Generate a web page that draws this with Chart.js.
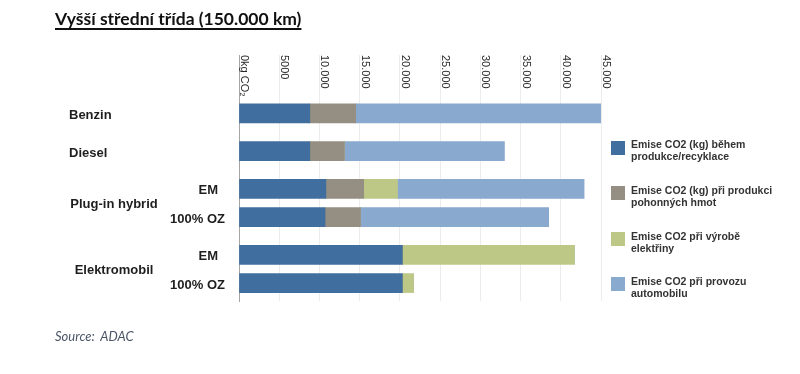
<!DOCTYPE html>
<html>
<head>
<meta charset="utf-8">
<script src="https://cdn.jsdelivr.net/npm/chart.js@4"></script>
<style>
  body { margin: 0; background: #fff; }
  #wrap { position: relative; width: 800px; height: 374px; overflow: hidden; }
  #chart { position: absolute; left: 0; top: 0; }
  .title {
    position: absolute; left: 55px; top: 8px;
    font: bold 17.5px Lato, sans-serif; color: #111;
    text-decoration: underline; text-decoration-thickness: 2px; text-underline-offset: 3px;
  }
  .source {
    position: absolute; left: 55px; top: 328px;
    font: italic 13px Lato, sans-serif; color: #4b5566;
  }
  .legend-item { position: absolute; left: 611px; }
  .legend-item .box { position: absolute; left: 0; width: 14px; height: 14px; }
  .legend-item .txt {
    position: absolute; left: 20px; white-space: nowrap;
    font: bold 10.5px "Liberation Sans", Arial, sans-serif; line-height: 12px; color: #333;
  }
</style>
</head>
<body>
<div id="wrap">
  <canvas id="chart" width="800" height="374"></canvas>
  <div class="title">Vyšší střední třída (150.000 km)</div>
  <div id="legend"></div>
  <div class="source">Source:&nbsp; ADAC</div>
</div>
<script>
// rows (top to bottom)
const groups = ["Benzin", "Diesel", "Plug-in hybrid", "Plug-in hybrid", "Elektromobil", "Elektromobil"];
const variants = ["", "", "EM", "100% OZ", "EM", "100% OZ"];
const rowSlots = [0, 4, 8, 11, 15, 18]; // rows inside a group sit closer together

// CO2 emissions in kg
const production = [8800, 8800, 10800, 10700, 20300, 20300];
const fuelProduction = [5700, 4300, 4700, 4400, 0, 0];
const electricity = [0, 0, 4200, 0, 21400, 1400];
const operation = [30500, 19900, 23200, 23400, 0, 0];

const tickValues = [0, 5000, 10000, 15000, 20000, 25000, 30000, 35000, 40000, 45000];
const tickLabels = ["0kg CO₂", "5000", "10.000", "15.000", "20.000", "25.000", "30.000", "35.000", "40.000", "45.000"];

const seriesNames = [
  ["Emise CO2 (kg) během", "produkce/recyklace"],
  ["Emise CO2 (kg) při produkci", "pohonných hmot"],
  ["Emise CO2 při výrobě", "elektřiny"],
  ["Emise CO2 při provozu", "automobilu"]
];
const seriesColors = ["#406e9f", "#948f82", "#bdc886", "#8aa9cf"];
const seriesData = [production, fuelProduction, electricity, operation];

// legend (html, two lines each)
const legendTops = [138, 184, 230, 275];
const legend = document.getElementById("legend");
seriesNames.forEach((lines, i) => {
  const item = document.createElement("div");
  item.className = "legend-item";
  item.style.top = legendTops[i] + "px";
  item.innerHTML = '<div class="box" style="top:' + (i === 0 ? 3 : 2) + 'px;background:' + seriesColors[i] + '"></div>' +
    '<div class="txt">' + lines.join("<br>") + "</div>";
  legend.appendChild(item);
});

const labelPlugin = {
  id: "labels",
  afterDraw(chart) {
    const ctx = chart.ctx;
    const xs = chart.scales.x;
    const ys = chart.scales.y;
    ctx.save();
    // rotated tick labels along the top
    ctx.fillStyle = "#2a2a2a";
    ctx.font = '11px "Liberation Sans", Arial, sans-serif';
    ctx.textAlign = "left";
    ctx.textBaseline = "alphabetic";
    tickValues.forEach((v, i) => {
      const x = xs.getPixelForValue(v);
      ctx.save();
      ctx.translate(x + 2, 55);
      ctx.rotate(Math.PI / 2);
      ctx.fillText(tickLabels[i], 0, 0);
      ctx.restore();
    });
    // row labels
    ctx.fillStyle = "#1e1e1e";
    ctx.font = 'bold 13px "Liberation Sans", Arial, sans-serif';
    ctx.textBaseline = "middle";
    const done = {};
    groups.forEach((g, i) => {
      const y = ys.getPixelForValue(rowSlots[i]);
      if (variants[i]) {
        ctx.textAlign = "right";
        ctx.fillText(variants[i], variants[i] === "EM" ? 218 : 225, y + 2);
        if (!done[g]) {
          const last = groups.lastIndexOf(g);
          const yMid = (y + ys.getPixelForValue(rowSlots[last])) / 2;
          ctx.textAlign = "center";
          ctx.fillText(g, 114, yMid + 1);
          done[g] = true;
        }
      } else {
        ctx.textAlign = "left";
        ctx.fillText(g, 69, y + 2);
      }
    });
    ctx.restore();
  }
};

new Chart(document.getElementById("chart"), {
  type: "bar",
  data: {
    datasets: seriesData.map((vals, i) => ({
      label: seriesNames[i].join(" "),
      data: vals.map((v, r) => ({ x: v, y: rowSlots[r] })),
      backgroundColor: seriesColors[i],
      borderWidth: 0,
      barThickness: 19
    }))
  },
  options: {
    indexAxis: "y",
    responsive: false,
    animation: false,
    devicePixelRatio: 1,
    layout: { padding: { left: 239, right: 199, top: 55, bottom: 73 } },
    plugins: { legend: { display: false }, tooltip: { enabled: false } },
    scales: {
      x: {
        type: "linear",
        position: "top",
        stacked: true,
        min: 0,
        max: 45000,
        ticks: { display: false, stepSize: 5000 },
        grid: { color: "#ececec", drawTicks: false },
        border: { display: false },
        afterFit: (s) => { s.height = 0; }
      },
      y: {
        type: "linear",
        stacked: true,
        reverse: true,
        offset: false,
        min: -6.2,
        max: 19.9,
        ticks: { display: false },
        grid: { display: false },
        border: { display: true, color: "#a5a5a5", width: 1 },
        afterFit: (s) => { s.width = 0; }
      }
    }
  },
  plugins: [labelPlugin]
});
</script>
</body>
</html>
